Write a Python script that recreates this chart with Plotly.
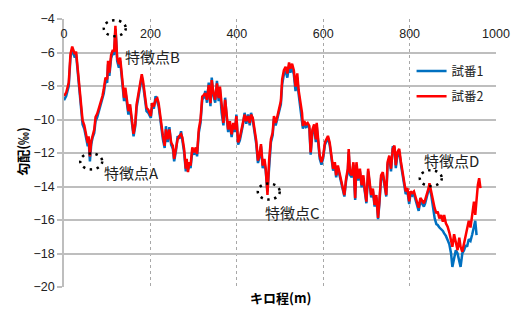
import plotly.graph_objects as go

# ---------------- data ----------------
x_m = [
    0, 5, 11, 15, 19, 22, 25, 28, 32, 36, 39, 43, 47, 51, 55, 57, 60, 63, 66, 70,
    73, 77, 81, 85, 89, 92, 96, 100, 102, 105, 109, 113, 116, 119, 121, 123, 127, 130, 133, 136,
    139, 142, 146, 149, 153, 157, 161, 165, 168, 172, 176, 180, 183, 187, 191,
    195, 201, 204, 208, 212, 216, 219, 222, 225, 229, 233, 236, 240, 244, 248, 252, 255, 259, 263, 267,
    271, 274, 278, 282, 284, 287, 290, 293, 297, 301, 305, 308, 312, 316,
    320, 324, 327, 331, 335, 339, 342, 346, 350, 354, 358, 361, 365, 369, 373, 377, 380, 384, 388, 392,
    396, 399, 403, 407, 411, 414, 418, 422, 426, 430, 433, 437, 441, 445, 449, 452, 456, 460, 464, 467,
    471, 475, 479, 483, 486, 490, 494, 498,
    502, 505, 509, 513, 517, 521, 524, 528, 532, 536, 540, 543, 547, 551, 553, 556, 560, 564, 568, 571,
    575, 579, 583, 585, 589, 592, 596, 600, 604, 608, 611, 615, 619, 623, 627, 630, 634, 638, 642, 645,
    649, 653, 657, 659, 662, 666, 670, 674, 677, 681, 685, 689, 693, 696, 700, 704, 708, 711, 715, 719,
    723, 727, 730, 734, 738, 742, 746, 749, 753, 757,
    761, 765, 768, 772, 776, 780, 783, 787, 791, 795, 799, 802, 806, 810, 814, 818, 821, 825,
    829, 833, 836, 840, 844, 846, 850, 854, 858, 862, 865, 869, 873, 877, 880, 884, 888, 892, 896, 899,
    903, 907, 911, 915, 918, 922, 926, 930, 933, 937, 941, 945, 949, 952, 955, 958, 961, 964,
]

grad_run1 = [  # 試番1 (blue)
    -8.85, -8.6, -8.0, -6.3, -5.8, -6.0, -6.3, -6.1, -7.3, -8.4, -9.4, -10.3, -10.55, -11.1, -11.6, -11.2, -12.5, -11.5, -11.1, -10.8,
    -10.1, -9.85, -9.5, -9.2, -8.8, -8.45, -7.7, -7.8, -6.7, -7.4, -6.35, -6.0, -6.15, -4.6, -5.35, -6.5, -6.9, -6.5, -7.3, -8.1,
    -8.9, -8.3, -9.1, -9.7, -9.3, -10.0, -11.0, -10.4, -9.3, -8.7, -8.05, -7.45, -7.9, -8.7, -9.5,
    -9.6, -9.9, -9.2, -9.35, -8.6, -8.9, -9.2, -9.8, -10.5, -11.2, -11.7, -10.4, -11.35, -10.45, -11.5, -11.75, -12.5, -11.9, -11.0, -11.15,
    -10.7, -11.25, -11.95, -13.1, -12.5, -13.0, -12.7, -12.9, -11.85, -12.1, -11.8, -12.2, -10.8, -10.2,
    -8.8, -8.7, -8.3, -9.0, -7.8, -9.2, -7.5, -8.6, -9.0, -7.7, -8.9, -8.2, -9.6, -10.35, -8.7, -10.0, -10.75, -10.25, -11.05, -10.35,
    -10.75, -9.7, -11.5, -11.25, -10.75, -10.35, -9.6, -10.25, -9.7, -10.35, -9.6, -10.05, -10.75, -11.45, -12.6, -12.3, -11.6, -12.9, -12.5, -13.1,
    -14.3, -12.5, -11.35, -10.95, -9.95, -10.35, -9.95, -9.6,
    -9.1, -7.9, -7.3, -7.1, -7.5, -6.8, -7.2, -6.9, -7.3, -8.3, -7.5, -8.45, -9.25, -9.8, -10.55, -10.3, -10.45, -10.35, -10.55, -12.1,
    -10.75, -10.45, -11.35, -10.4, -11.5, -12.35, -12.7, -12.3, -11.5, -11.25, -11.1, -11.5, -12.3, -13.05, -12.7, -13.45, -12.9, -13.4, -13.85, -14.15,
    -14.6, -13.65, -13.1, -11.95, -13.3, -13.45, -12.7, -14.8, -12.7, -13.65, -13.1, -14.05, -13.5, -14.25, -15.0, -13.1, -14.05, -14.65, -14.25, -15.2,
    -14.65, -15.95, -15.05, -13.5, -13.3, -13.9, -14.6, -12.7, -12.3, -13.1,
    -11.6, -11.7, -12.9, -12.1, -11.9, -12.7, -13.2, -13.7, -14.45, -14.3, -15.05, -14.45, -14.55, -14.45, -14.85, -15.25, -15.45, -14.85,
    -15.05, -15.2, -15.0, -14.65, -14.3, -14.0, -14.5, -15.3, -15.9, -16.25, -16.3, -16.45, -16.55, -16.65, -16.8, -16.95, -17.2, -17.45, -18.0, -18.8,
    -18.3, -17.8, -18.0, -18.4, -18.8, -18.0, -17.8, -17.5, -17.6, -17.15, -17.25, -16.85, -16.45, -16.05, -16.9, None, None, None,
]

grad_run2 = [  # 試番2 (red)
    -8.59, -8.4, -7.8, -6.1, -5.65, -5.85, -6.1, -5.95, -7.1, -8.2, -9.2, -10.05, -10.35, -10.85, -11.4, -11.0, -12.2, -11.3, -10.9, -10.6,
    -9.85, -9.65, -9.3, -9.0, -8.6, -8.2, -7.5, -7.6, -6.5, -7.2, -6.15, -5.85, -5.95, -4.4, -5.15, -6.3, -6.7, -6.3, -7.1, -7.9,
    -8.7, -8.1, -8.9, -9.5, -9.1, -9.85, -10.85, -10.25, -9.1, -8.5, -7.9, -7.3, -7.7, -8.5, -9.3,
    -9.41, -9.8, -9.02, -9.22, -8.82, -8.73, -9.02, -9.61, -10.39, -10.98, -11.57, -10.59, -11.18, -10.59, -11.37, -11.57, -12.35, -11.76, -11.18, -10.98,
    -10.88, -11.08, -11.76, -12.94, -12.35, -13.14, -12.55, -12.75, -11.67, -11.96, -11.67, -12.06, -10.59, -10.0,
    -8.63, -8.53, -8.43, -8.82, -7.94, -9.02, -7.65, -8.43, -8.82, -7.84, -8.73, -8.04, -9.41, -10.2, -8.82, -9.8, -10.59, -10.1, -10.88, -10.2,
    -10.59, -9.8, -11.37, -11.08, -10.59, -10.2, -9.71, -10.1, -9.8, -10.2, -9.71, -9.9, -10.59, -11.27, -12.45, -12.16, -11.47, -12.75, -12.35, -12.94,
    -14.5, -12.35, -11.18, -10.78, -9.8, -10.2, -9.8, -9.41,
    -8.9, -7.6, -7.06, -6.86, -7.25, -6.6, -6.96, -6.67, -7.06, -8.04, -7.25, -8.24, -9.02, -9.61, -10.39, -10.1, -10.29, -10.2, -10.39, -11.96,
    -10.59, -10.29, -11.18, -10.2, -11.37, -12.16, -12.55, -12.16, -11.37, -11.08, -10.98, -11.37, -12.16, -12.94, -12.55, -13.33, -12.75, -13.24, -13.73, -14.02,
    -14.51, -13.53, -12.94, -11.76, -13.14, -13.33, -12.55, -14.7, -12.55, -13.53, -12.94, -13.92, -13.33, -14.12, -14.9, -12.94, -13.92, -14.51, -14.12, -15.1,
    -14.51, -15.88, -14.9, -13.33, -13.14, -13.73, -14.51, -12.55, -12.16, -12.94,
    -11.75, -11.55, -12.73, -11.94, -11.75, -12.53, -13.02, -13.51, -14.29, -14.1, -14.88, -14.29, -14.39, -14.29, -14.69, -15.08, -15.27, -14.69,
    -14.88, -15.0, -14.8, -14.49, -14.1, -13.8, -14.3, -14.9, -15.3, -15.6, -15.5, -15.9, -15.7, -16.1, -15.7, -16.2, -16.4, -16.75, -17.25, -17.6,
    -16.85, -17.25, -17.8, -17.05, -17.6, -17.9, -17.35, -16.85, -16.45, -16.05, -16.45, -15.5, -14.9, -15.7, -14.7, -13.9, -13.5, -14.1,
]

series_names = ["試番1", "試番2"]
series_colors = ["#0070C0", "#FF0000"]

x_tick_vals = [0, 200, 400, 600, 800, 1000]
y_tick_vals = [-20, -18, -16, -14, -12, -10, -8, -6, -4]

feature_names = ["特徴点A", "特徴点B", "特徴点C", "特徴点D"]
feature_x = [63, 117.5, 474, 849]
feature_y = [-12.5, -4.55, -14.3, -13.5]

x_title = "キロ程(m)"
y_title = "勾配(‰)"

# label offsets (pixels) of feature names relative to their circles
label_dx = [40, 38, 24, 21]
label_dy = [-11, -28, -21, 17.5]

# ---------------- figure ----------------
W, H = 522, 309
ML, MR, MT, MB = 64, 18, 15, 22
PW, PH = W - ML - MR, H - MT - MB

def px_to_paper(px, py):
    return (px - ML) / PW, 1 - (py - MT) / PH

fig = go.Figure()
for name, ys, col in zip(series_names, [grad_run1, grad_run2], series_colors):
    fig.add_trace(go.Scatter(
        x=x_m, y=ys, mode="lines", name=name, legendgroup=name,
        line=dict(color=col, width=2.5), connectgaps=False,
    ))

shapes = []
annotations = []
for name, fx, fy, dx, dy in zip(feature_names, feature_x, feature_y, label_dx, label_dy):
    shapes.append(dict(
        type="circle", xref="x", yref="y", xsizemode="pixel", ysizemode="pixel",
        xanchor=fx, yanchor=fy, x0=-11, x1=11, y0=-8, y1=8,
        line=dict(color="black", width=2.5, dash="2.5px,4.5px"),
    ))
    annotations.append(dict(
        x=fx, y=fy, xref="x", yref="y", text=name, showarrow=False,
        xshift=dx, yshift=dy, xanchor="center", yanchor="middle",
        font=dict(family="Noto Sans CJK JP", size=15, color="#222"),
    ))

ax, ay = px_to_paper(284, 298)
annotations.append(dict(
    x=ax, y=ay, xref="paper", yref="paper", text="<b>" + x_title + "</b>",
    showarrow=False, xanchor="center", yanchor="middle",
    font=dict(family="Noto Sans CJK JP", size=13, color="#000"),
))
ax, ay = px_to_paper(21, 149)
annotations.append(dict(
    x=ax, y=ay, xref="paper", yref="paper", text="<b>" + y_title + "</b>",
    showarrow=False, xanchor="center", yanchor="middle", textangle=-90,
    font=dict(family="Noto Sans CJK JP", size=13, color="#000"),
))

lx, ly = px_to_paper(418, 53)

fig.update_layout(
    width=W, height=H,
    margin=dict(l=ML, r=MR, t=MT, b=MB, pad=0),
    paper_bgcolor="white", plot_bgcolor="white",
    showlegend=True,
    legend=dict(
        x=lx, y=ly, xanchor="left", yanchor="top",
        bgcolor="rgba(0,0,0,0)", borderwidth=0,
        font=dict(family="Noto Sans CJK JP", size=12.5, color="#222"),
        tracegroupgap=6, traceorder="grouped",
    ),
    xaxis=dict(
        range=[0, 1000], side="top", tickvals=x_tick_vals,
        ticklabelposition="inside", ticklabeloverflow="allow", ticklabelstandoff=7,
        ticks="", showline=False, zeroline=False,
        showgrid=True, gridcolor="#A8A8A8", gridwidth=1, griddash="dot",
        tickfont=dict(family="Liberation Sans", size=12.5, color="#222"),
    ),
    yaxis=dict(
        range=[-20, -4], tickvals=y_tick_vals,
        ticks="outside", ticklen=5, tickcolor="#BEBEBE", tickwidth=1.5,
        showline=True, linecolor="#BEBEBE", linewidth=1.5,
        zeroline=False, showgrid=True, gridcolor="#BEBEBE", gridwidth=1.5,
        tickfont=dict(family="Liberation Sans", size=12.5, color="#222"),
    ),
    shapes=shapes,
    annotations=annotations,
)

fig.write_html(
    "out.html",
    config={"displayModeBar": False},
    post_script="document.body.style.margin='0px';document.body.style.padding='0px';",
)
